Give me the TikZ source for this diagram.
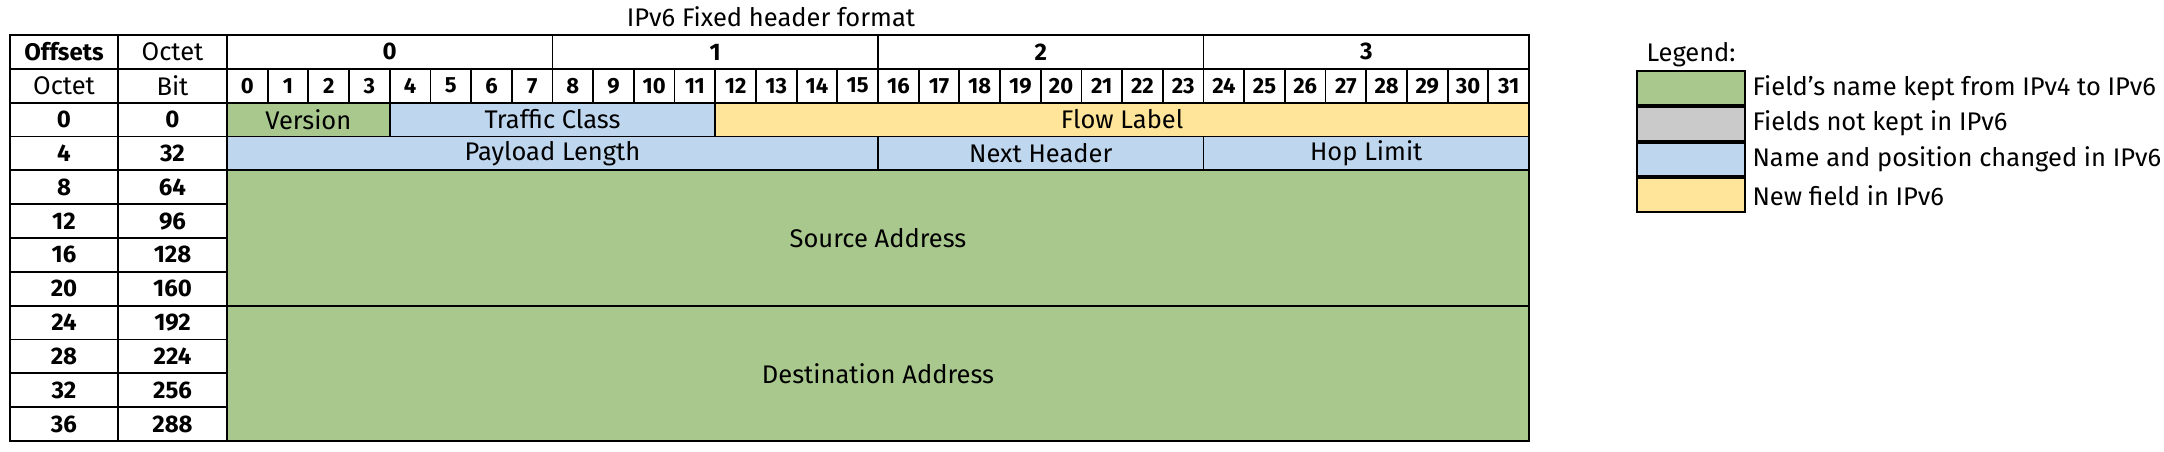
\documentclass[tikz,border=0pt]{standalone}
\usepackage{fontspec}
\setmainfont{Fira Sans}
\usetikzlibrary{positioning}

\definecolor{keptgreen}{RGB}{169,200,141}
\definecolor{dropgray}{RGB}{202,202,202}
\definecolor{movedblue}{RGB}{190,214,238}
\definecolor{newyellow}{RGB}{255,229,153}

\tikzset{
  txt/.style={font=\fontsize{25.5}{27}\selectfont},
  cell/.style={rectangle, draw, line width=1.8pt, inner sep=0pt, outer sep=0pt, anchor=north west, minimum height=33.83pt, align=center, txt},
  hdr/.style={cell, font=\bfseries\fontsize{24}{26}\selectfont},
  bitno/.style={cell, font=\bfseries\fontsize{22}{24}\selectfont},
  lgbox/.style={rectangle, draw, line width=2pt, inner sep=0pt, anchor=north west, minimum width=108pt, minimum height=33.8pt},
}

\begin{document}
\begin{tikzpicture}[x=1pt, y=-1pt]
	\useasboundingbox (0,0) rectangle (2164,452);

	% --- Title ---
	\node[txt, anchor=base] (title) at (771, 27) {IPv6 Fixed header format};

	% --- Header rows ---
	\node[hdr, minimum width=108pt] (offs) at (10, 35) {Offsets};
	\node[cell, minimum width=109pt] (octh) at (118, 35) {Octet};
	\node[cell, minimum width=108pt] (octl) at (10, 68.83) {Octet};
	\node[cell, minimum width=109pt] (bitl) at (118, 68.83) {Bit};
	\foreach \o in {0,...,3}
		\node[hdr, minimum width=325.5pt] (oct\o) at ({227+\o*325.5}, 35) {\o};
	\foreach \i in {0,...,31}
		\node[bitno, minimum width=40.6875pt] (b\i) at ({227+\i*40.6875}, 68.83) {\i};

	% --- Offsets column ---
	\foreach \r in {0,...,9} {
		\pgfmathtruncatemacro{\oct}{4*\r}
		\pgfmathtruncatemacro{\bit}{32*\r}
		\node[hdr, minimum width=108pt] (oc\r) at (10, {102.66+\r*33.83}) {\oct};
		\node[hdr, minimum width=109pt] (bt\r) at (118, {102.66+\r*33.83}) {\bit};
	}

	% --- Fields ---
	\node[cell, fill=keptgreen, minimum width=162.75pt] (version) at (227, 102.66) {Version};
	\node[cell, fill=movedblue, minimum width=325.5pt] (tclass) at (389.75, 102.66) {Traffic Class};
	\node[cell, fill=newyellow, minimum width=813.75pt] (flow) at (715.25, 102.66) {Flow Label};
	\node[cell, fill=movedblue, minimum width=651pt] (paylen) at (227, 136.49) {Payload Length};
	\node[cell, fill=movedblue, minimum width=325.5pt] (nexthdr) at (878, 136.49) {Next Header};
	\node[cell, fill=movedblue, minimum width=325.5pt] (hoplim) at (1203.5, 136.49) {Hop Limit};
	\node[cell, fill=keptgreen, minimum width=1302pt, minimum height=135.32pt] (src) at (227, 170.32) {Source Address};
	\node[cell, fill=keptgreen, minimum width=1302pt, minimum height=135.32pt] (dst) at (227, 305.64) {Destination Address};

	% outer frame
	\draw[line width=2.6pt] (offs.north west) rectangle (dst.south east);

	% --- Legend ---
	\node[lgbox, fill=keptgreen] (lg1) at (1636, 70) {};
	\node[lgbox, fill=dropgray, below=0pt of lg1.south west, anchor=north west] (lg2) {};
	\node[lgbox, fill=movedblue, below=0pt of lg2.south west, anchor=north west] (lg3) {};
	\node[lgbox, fill=newyellow, below=0pt of lg3.south west, anchor=north west] (lg4) {};
	\node[txt, anchor=base west] (lgtitle) at ([xshift=7pt, yshift=8pt]lg1.north west) {Legend:};
	\node[txt, right=3pt of lg1] (lgt1) {Field's name kept from IPv4 to IPv6};
	\node[txt, right=3pt of lg2] (lgt2) {Fields not kept in IPv6};
	\node[txt, right=3pt of lg3] (lgt3) {Name and position changed in IPv6};
	\node[txt, right=3pt of lg4] (lgt4) {New field in IPv6};
\end{tikzpicture}
\end{document}
